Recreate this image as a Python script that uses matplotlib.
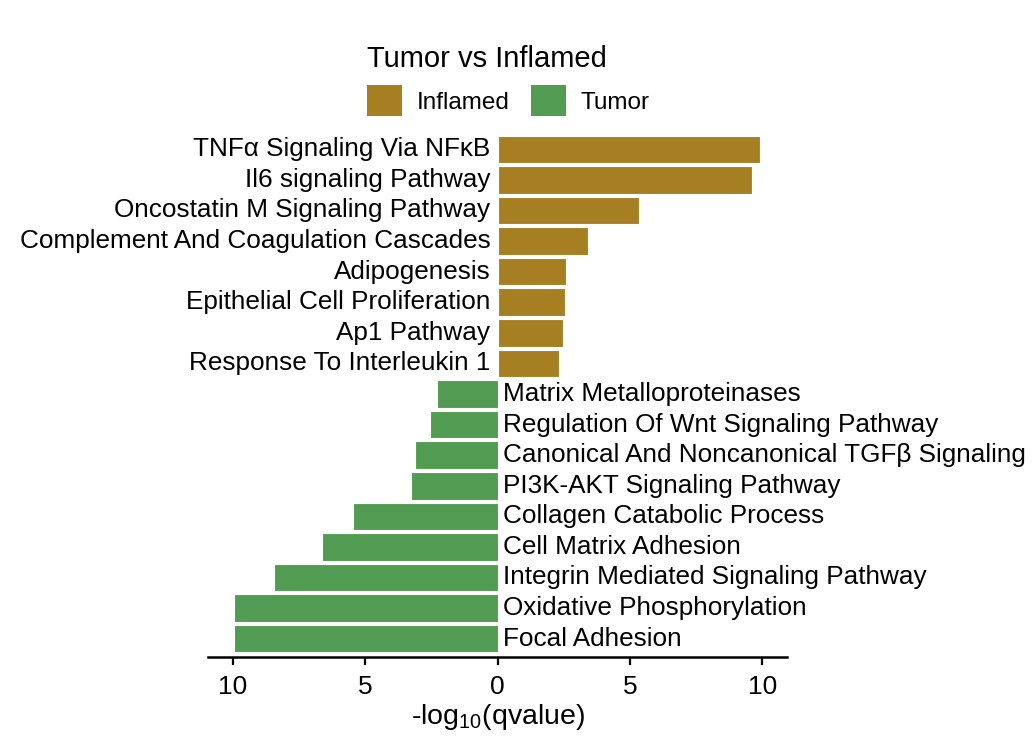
#!/usr/bin/env python3

# Cargamos las librerias necesarias
import matplotlib.pyplot as plt
from matplotlib.patches import Patch

plt.rcParams['font.family'] = ['Liberation Sans', 'DejaVu Sans']
plt.rcParams['mathtext.fontset'] = 'custom'
plt.rcParams['mathtext.rm'] = 'Liberation Sans'

# Vias enriquecidas en Inflamed (arriba) y en Tumor (abajo), de arriba a abajo
inflamed_terms = [
    "TNFα Signaling Via NFκB",
    "Il6 signaling Pathway",
    "Oncostatin M Signaling Pathway",
    "Complement And Coagulation Cascades",
    "Adipogenesis",
    "Epithelial Cell Proliferation",
    "Ap1 Pathway",
    "Response To Interleukin 1",
]
inflamed_values = [9.92, 9.62, 5.34, 3.41, 2.57, 2.56, 2.46, 2.31]

tumor_terms = [
    "Matrix Metalloproteinases",
    "Regulation Of Wnt Signaling Pathway",
    "Canonical And Noncanonical TGFβ Signaling",
    "PI3K-AKT Signaling Pathway",
    "Collagen Catabolic Process",
    "Cell Matrix Adhesion",
    "Integrin Mediated Signaling Pathway",
    "Oxidative Phosphorylation",
    "Focal Adhesion",
]
tumor_values = [2.29, 2.57, 3.12, 3.26, 5.45, 6.65, 8.44, 9.95, 9.95]

groups = ["Inflamed", "Tumor"]
colors = {"Inflamed": "#A67F22", "Tumor": "#529B52"}

x_ticks = [-10, -5, 0, 5, 10]
x_ticklabels = ["10", "5", "0", "5", "10"]

# Creamos la figura
fig = plt.figure(figsize=(10.36, 7.45), dpi=100)
ax = fig.add_axes([0.2008, 0.1181, 0.5589, 0.7061])

n = len(inflamed_terms) + len(tumor_terms)
pos_inf = [n - i for i in range(len(inflamed_terms))]
pos_tum = [len(tumor_terms) - i for i in range(len(tumor_terms))]

ax.barh(pos_inf, inflamed_values, height=0.9, color=colors["Inflamed"],
        edgecolor="white", linewidth=0.8)
ax.barh(pos_tum, [-v for v in tumor_values], height=0.9, color=colors["Tumor"],
        edgecolor="white", linewidth=0.8)

# Etiquetas al lado del cero
for y, t in zip(pos_inf, inflamed_terms):
    ax.text(-0.27, y, t, ha="right", va="center", fontsize=18.8)
for y, t in zip(pos_tum, tumor_terms):
    ax.text(0.22, y, t, ha="left", va="center", fontsize=18.8)

ax.set_xlim(-10.94, 10.94)
ax.set_ylim(0.4, n + 0.6)
ax.set_xticks(x_ticks)
ax.set_xticklabels(x_ticklabels, fontsize=19)
ax.set_yticks([])
ax.tick_params(axis="x", length=6, width=1.6, pad=7)
for s in ["top", "right", "left"]:
    ax.spines[s].set_visible(False)
ax.spines["bottom"].set_linewidth(1.8)
ax.set_xlabel("-log$_{\\mathregular{10}}$(qvalue)", fontsize=20.5, labelpad=2)

# Leyenda arriba
handles = [Patch(facecolor=colors[g], edgecolor="none") for g in groups]
leg = fig.legend(handles, groups, title="Tumor vs Inflamed", ncol=2,
                 loc="upper left", bbox_to_anchor=(0.338, 0.962),
                 frameon=False, fontsize=17.5, title_fontsize=21,
                 handlelength=1.45, handleheight=1.55, columnspacing=0.85,
                 handletextpad=0.6, alignment="left", borderpad=0.2)

fig.savefig("out.png", dpi=100)
